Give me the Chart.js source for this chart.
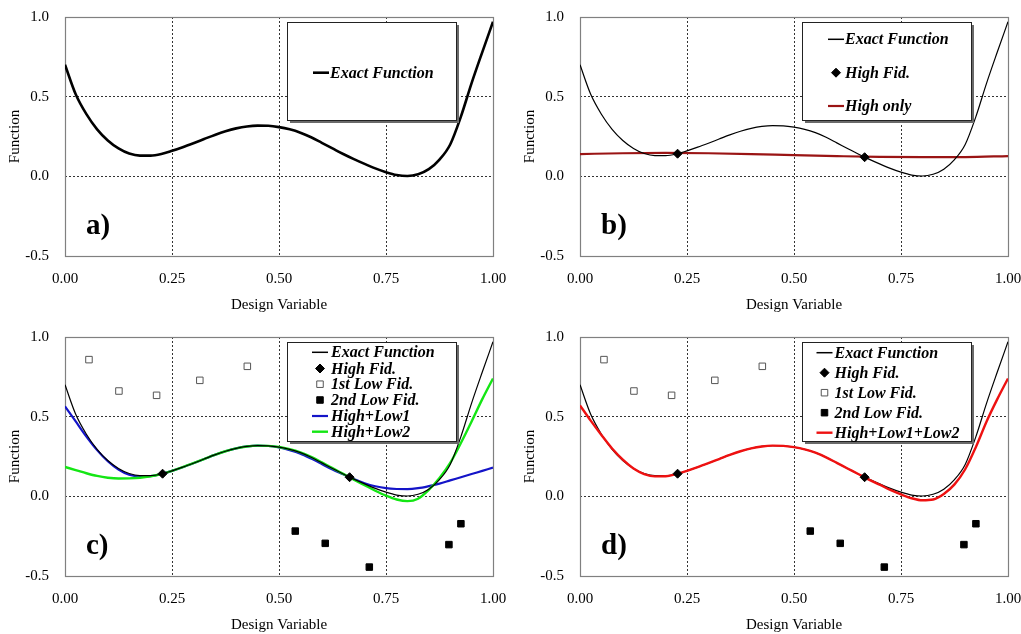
<!DOCTYPE html>
<html>
<head>
<meta charset="utf-8">
<script src="https://cdn.jsdelivr.net/npm/chart.js@4.4.0/dist/chart.umd.min.js"></script>
<style>
  body { margin: 0; background: #fff; width: 1021px; height: 634px; position: relative; overflow: hidden; }
  .panel { position: absolute; width: 510px; height: 317px; }
</style>
</head>
<body>
<div class="panel" style="left:0;top:0"><canvas id="chartA" width="510" height="317"></canvas></div>
<div class="panel" style="left:515px;top:0"><canvas id="chartB" width="510" height="317"></canvas></div>
<div class="panel" style="left:0;top:320px"><canvas id="chartC" width="510" height="317"></canvas></div>
<div class="panel" style="left:515px;top:320px"><canvas id="chartD" width="510" height="317"></canvas></div>
<script>
/******* data *********/
const xGrid = [0, 0.025, 0.05, 0.075, 0.1, 0.125, 0.15, 0.175, 0.2, 0.225, 0.25, 0.275, 0.3, 0.325, 0.35, 0.375, 0.4, 0.425, 0.45, 0.475,
    0.5, 0.525, 0.55, 0.575, 0.6, 0.625, 0.65, 0.675, 0.7, 0.725, 0.75, 0.775, 0.8, 0.825, 0.85, 0.875, 0.9, 0.925, 0.95, 0.975, 1];
const exactF = [0.70, 0.515, 0.39, 0.295, 0.225, 0.175, 0.143, 0.13, 0.13, 0.14, 0.16, 0.183, 0.208, 0.234, 0.26, 0.283, 0.301, 0.313, 0.318, 0.317,
    0.309, 0.295, 0.274, 0.245, 0.21, 0.175, 0.14, 0.108, 0.078, 0.05, 0.026, 0.008, 0.002, 0.013, 0.045, 0.105, 0.2, 0.375, 0.585, 0.78, 0.97];
const highLow1 = [0.565, 0.47, 0.375, 0.29, 0.22, 0.168, 0.135, 0.125, 0.127, 0.14, 0.16, 0.183, 0.208, 0.234, 0.26, 0.283, 0.301, 0.313, 0.318, 0.316,
    0.307, 0.29, 0.268, 0.237, 0.203, 0.168, 0.138, 0.108, 0.082, 0.063, 0.051, 0.046, 0.045, 0.051, 0.064, 0.08, 0.1, 0.12, 0.14, 0.16, 0.18];
const highLow2 = [0.184, 0.165, 0.145, 0.128, 0.117, 0.112, 0.113, 0.117, 0.126, 0.14, 0.16, 0.183, 0.208, 0.234, 0.26, 0.283, 0.301, 0.313, 0.318, 0.317,
    0.31, 0.296, 0.276, 0.248, 0.213, 0.177, 0.141, 0.105, 0.07, 0.035, 0.004, -0.02, -0.03, -0.015, 0.04, 0.115, 0.21, 0.335, 0.47, 0.61, 0.74];
const highLow12 = [0.571, 0.475, 0.385, 0.3, 0.23, 0.175, 0.14, 0.125, 0.126, 0.14, 0.16, 0.183, 0.208, 0.234, 0.26, 0.283, 0.301, 0.313, 0.318, 0.317,
    0.309, 0.295, 0.274, 0.245, 0.21, 0.175, 0.14, 0.105, 0.073, 0.04, 0.012, -0.012, -0.025, -0.02, 0.015, 0.075, 0.17, 0.31, 0.47, 0.61, 0.74];
const highOnlyX = [0, 0.1, 0.2, 0.3, 0.4, 0.5, 0.6, 0.7, 0.8, 0.9, 1];
const highOnly = [0.14, 0.145, 0.147, 0.145, 0.14, 0.133, 0.127, 0.122, 0.12, 0.121, 0.127];
const highFidX = [0.228, 0.665];
const highFidY = [0.142, 0.12];
const low1X = [0.056, 0.126, 0.214, 0.315, 0.426];
const low1Y = [0.858, 0.661, 0.634, 0.728, 0.816];
const low2X = [0.538, 0.608, 0.711, 0.897, 0.925];
const low2Y = [-0.218, -0.295, -0.444, -0.303, -0.172];
const xTicks = [0, 0.25, 0.5, 0.75, 1];
const yTicks = [-0.5, 0, 0.5, 1];

const pts = (xs, ys) => xs.map((x, i) => ({x, y: ys[i]}));
const serif = '"Liberation Serif", "Times New Roman", serif';

/******* dataset builders *********/
const curve = (label, ys, color, width, xs = xGrid) => ({
    label, data: pts(xs, ys), showLine: true, borderColor: color, backgroundColor: color,
    borderWidth: width, pointRadius: 0, cubicInterpolationMode: 'monotone'
});
const highFid = () => ({
    label: 'High Fid.', data: pts(highFidX, highFidY), pointStyle: 'rectRot', pointRadius: 4.5,
    backgroundColor: '#000', borderColor: '#000', borderWidth: 1
});
const lowFid1 = () => ({
    label: '1st Low Fid.', data: pts(low1X, low1Y), pointStyle: 'rect', pointRadius: 4.6,
    backgroundColor: '#fff', borderColor: '#555', borderWidth: 1
});
const lowFid2 = () => ({
    label: '2nd Low Fid.', data: pts(low2X, low2Y), pointStyle: 'rect', pointRadius: 4.6,
    backgroundColor: '#000', borderColor: '#000', borderWidth: 1
});

/******* plugins: frame, boxed legend, panel tag *********/
const frame = {
    id: 'frame',
    beforeDatasetsDraw(chart) {
        const {left, top, right, bottom} = chart.chartArea;
        const ctx = chart.ctx;
        ctx.save();
        ctx.strokeStyle = '#808080';
        ctx.lineWidth = 1.2;
        ctx.strokeRect(Math.round(left) + 0.5, Math.round(top) + 0.5, Math.round(right - left), Math.round(bottom - top));
        ctx.restore();
    }
};
const boxLegend = {
    id: 'boxLegend',
    afterDraw(chart, args, opts) {
        const ctx = chart.ctx;
        const {x, y, w, h, rows, sampleX, textX, tag} = opts;
        ctx.save();
        ctx.fillStyle = '#6a6a6a';
        ctx.fillRect(x + 3, y + 3, w, h);
        ctx.fillStyle = '#fff';
        ctx.fillRect(x, y, w, h);
        ctx.strokeStyle = '#222';
        ctx.lineWidth = 1;
        ctx.strokeRect(x + 0.5, y + 0.5, w, h);
        rows.forEach(row => {
            const ds = chart.data.datasets[row.ds];
            if (ds.showLine) {
                ctx.strokeStyle = ds.borderColor;
                ctx.lineWidth = Math.max(ds.borderWidth, 1.5);
                ctx.beginPath();
                ctx.moveTo(sampleX, row.y);
                ctx.lineTo(sampleX + 16, row.y);
                ctx.stroke();
            } else {
                ctx.fillStyle = ds.backgroundColor;
                ctx.strokeStyle = ds.borderColor;
                ctx.lineWidth = ds.borderWidth;
                Chart.helpers.drawPoint(ctx, {pointStyle: ds.pointStyle, radius: ds.pointRadius, borderWidth: ds.borderWidth, rotation: 0},
                    sampleX + 8, row.y);
            }
            ctx.fillStyle = '#000';
            ctx.font = 'italic bold 16px ' + serif;
            ctx.textBaseline = 'middle';
            ctx.fillText(ds.label, textX, row.y + 1);
        });
        // panel letter
        ctx.font = 'bold 29px ' + serif;
        ctx.textBaseline = 'alphabetic';
        ctx.fillStyle = '#000';
        ctx.fillText(tag, 86, 234);
        ctx.restore();
    }
};

/******* chart creator *******/
const edgeColor = (vals) => (c) => (c.tick && (c.tick.value === vals[0] || c.tick.value === vals[vals.length - 1])) ? 'rgba(0,0,0,0)' : '#333';
// fixed axis sizes, and no label overhang so the plot box sits at the layout padding
const fixAxis = (w, h) => s => {
    if (w) s.width = w;
    if (h) s.height = h;
    s.paddingTop = s.paddingBottom = s.paddingLeft = s.paddingRight = 0;
};
const makeChart = (id, datasets, legend) => new Chart(document.getElementById(id), {
    type: 'scatter',
    data: {datasets},
    plugins: [frame, boxLegend],
    options: {
        responsive: false,
        animation: false,
        layout: {autoPadding: false, padding: {top: 17, right: 17, left: 0, bottom: 0}},
        plugins: {legend: {display: false}, tooltip: {enabled: false}, boxLegend: legend},
        scales: {
            x: {
                type: 'linear', min: 0, max: 1,
                afterBuildTicks: s => { s.ticks = xTicks.map(v => ({value: v})); },
                afterFit: fixAxis(0, 61),
                ticks: {color: '#000', padding: 14, font: {family: serif, size: 15}, callback: v => v.toFixed(2)},
                grid: {color: edgeColor(xTicks), lineWidth: 1, drawTicks: false},
                border: {display: false, dash: [2, 2]},
                title: {display: true, text: 'Design Variable', color: '#000', font: {family: serif, size: 15}, padding: {top: 3, bottom: 3}}
            },
            y: {
                type: 'linear', min: -0.5, max: 1,
                afterBuildTicks: s => { s.ticks = yTicks.map(v => ({value: v})); },
                afterFit: fixAxis(65, 0),
                ticks: {color: '#000', padding: 16, font: {family: serif, size: 15}, callback: v => v.toFixed(1)},
                grid: {color: edgeColor(yTicks), lineWidth: 1, drawTicks: false},
                border: {display: false, dash: [2, 2]},
                title: {display: true, text: 'Function', color: '#000', font: {family: serif, size: 15}, padding: {top: 6, bottom: 6}}
            }
        }
    }
});

const box = {x: 287, y: 22, w: 169, h: 98};

makeChart('chartA', [curve('Exact Function', exactF, '#000', 2.6)],
    {...box, sampleX: 313, textX: 330, tag: 'a)', rows: [{ds: 0, y: 72.7}]});

makeChart('chartB', [highFid(), curve('Exact Function', exactF, '#000', 1.2), curve('High only', highOnly, '#9a1414', 2.2, highOnlyX)],
    {...box, sampleX: 313, textX: 330, tag: 'b)', rows: [{ds: 1, y: 39.3}, {ds: 0, y: 72.7}, {ds: 2, y: 106}]});

makeChart('chartC', [highFid(), lowFid1(), lowFid2(), curve('Exact Function', exactF, '#000', 1.2),
        curve('High+Low2', highLow2, '#14e614', 2.4), curve('High+Low1', highLow1, '#1414c8', 2.2)],
    {...box, h: 99, sampleX: 312, textX: 331, tag: 'c)',
        rows: [{ds: 3, y: 32.3}, {ds: 0, y: 48.5}, {ds: 1, y: 64.2}, {ds: 2, y: 80}, {ds: 5, y: 96}, {ds: 4, y: 111.7}]});

makeChart('chartD', [highFid(), lowFid1(), lowFid2(), curve('High+Low1+Low2', highLow12, '#ee1111', 2.4), curve('Exact Function', exactF, '#000', 1.2)],
    {...box, h: 99, sampleX: 301.5, textX: 319.5, tag: 'd)',
        rows: [{ds: 4, y: 32.7}, {ds: 0, y: 52.7}, {ds: 1, y: 72.7}, {ds: 2, y: 92.7}, {ds: 3, y: 112.7}]});
</script>
</body>
</html>
